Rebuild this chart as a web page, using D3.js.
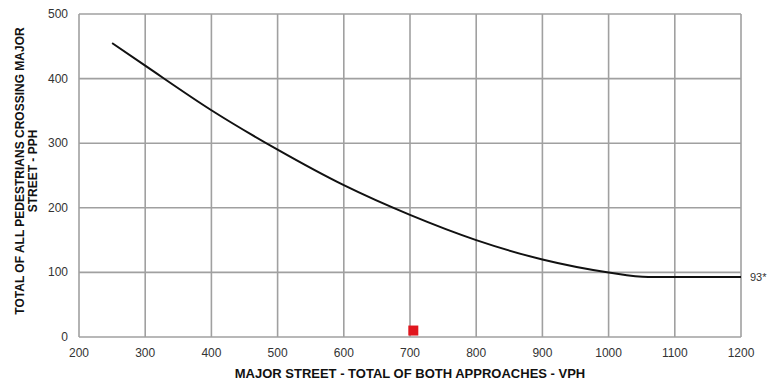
<!DOCTYPE html>
<html>
<head>
<meta charset="utf-8">
<script src="https://cdn.jsdelivr.net/npm/d3@7"></script>
<style>
  body { margin: 0; background: #fff; }
  text { font-family: "Liberation Sans", Arial, sans-serif; }
</style>
</head>
<body>
<svg id="chart"></svg>
<script>
// curve
const vph = [250, 300, 400, 500, 600, 700, 800, 900, 1000, 1060, 1200];
const pph = [455, 420, 351, 290, 235, 189, 150, 120, 100, 93, 93];
const xTicks = [200, 300, 400, 500, 600, 700, 800, 900, 1000, 1100, 1200];
const yTicks = [0, 100, 200, 300, 400, 500];
const marker = [{ x: 705, y: 10 }];

const width = 769, height = 383;
const margin = { top: 14, right: 28, bottom: 46, left: 79 };

const svg = d3.select("#chart")
    .attr("width", width)
    .attr("height", height);

const x = d3.scaleLinear().domain([200, 1200]).range([margin.left, width - margin.right]);
const y = d3.scaleLinear().domain([0, 500]).range([height - margin.bottom, margin.top]);

// grid lines
svg.append("g")
    .selectAll("line")
    .data(xTicks)
    .enter().append("line")
    .attr("x1", d => x(d)).attr("x2", d => x(d))
    .attr("y1", y(0)).attr("y2", y(500))
    .attr("stroke", "#a0a0a0")
    .attr("stroke-width", 1.6);

svg.append("g")
    .selectAll("line")
    .data(yTicks)
    .enter().append("line")
    .attr("x1", x(200)).attr("x2", x(1200))
    .attr("y1", d => y(d)).attr("y2", d => y(d))
    .attr("stroke", "#a0a0a0")
    .attr("stroke-width", 1.6);

// tick labels
svg.append("g")
    .selectAll("text")
    .data(xTicks)
    .enter().append("text")
    .attr("x", d => x(d))
    .attr("y", y(0) + 20)
    .attr("text-anchor", "middle")
    .attr("font-size", 12)
    .attr("fill", "#333")
    .text(d => d);

svg.append("g")
    .selectAll("text")
    .data(yTicks)
    .enter().append("text")
    .attr("x", x(200) - 11)
    .attr("y", d => y(d) + 4)
    .attr("text-anchor", "end")
    .attr("font-size", 12)
    .attr("fill", "#333")
    .text(d => d);

// the curve
const line = d3.line()
    .x((d, i) => x(vph[i]))
    .y(d => y(d))
    .curve(d3.curveMonotoneX);

svg.append("path")
    .datum(pph)
    .attr("d", line)
    .attr("fill", "none")
    .attr("stroke", "#111")
    .attr("stroke-width", 2);

svg.append("text")
    .attr("x", x(1200) + 9)
    .attr("y", y(93) + 4)
    .attr("font-size", 11)
    .attr("fill", "#333")
    .text("93*");

// red point
svg.selectAll("rect.pt")
    .data(marker)
    .enter().append("rect")
    .attr("class", "pt")
    .attr("x", d => x(d.x) - 5)
    .attr("y", d => y(d.y) - 5)
    .attr("width", 10)
    .attr("height", 10)
    .attr("fill", "#e0161e");

// axis titles
svg.append("text")
    .attr("x", 410)
    .attr("y", height - 5)
    .attr("text-anchor", "middle")
    .attr("font-size", 13)
    .attr("font-weight", "bold")
    .attr("fill", "#111")
    .text("MAJOR STREET - TOTAL OF BOTH APPROACHES - VPH");

const yTitle = svg.append("text")
    .attr("transform", `translate(0,171) rotate(-90)`)
    .attr("text-anchor", "middle")
    .attr("font-size", 12)
    .attr("font-weight", "bold")
    .attr("fill", "#111");
yTitle.append("tspan").attr("x", 0).attr("y", 24).text("TOTAL OF ALL PEDESTRIANS CROSSING MAJOR");
yTitle.append("tspan").attr("x", 0).attr("y", 37).text("STREET - PPH");
</script>
</body>
</html>
